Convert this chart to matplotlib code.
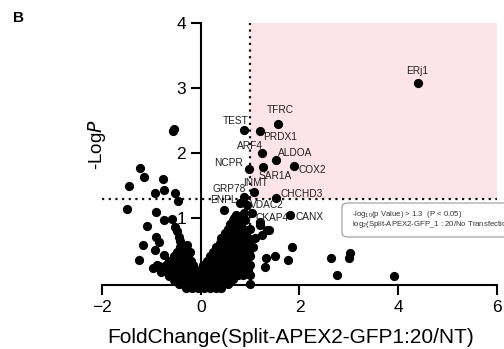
import matplotlib
matplotlib.use("Agg")
import matplotlib.pyplot as plt
from matplotlib.patches import Rectangle, FancyBboxPatch

plt.rcParams['font.family'] = ['Liberation Sans', 'DejaVu Sans']
plt.rcParams['mathtext.default'] = 'regular'

# Labelled proteins
genes = ["ERj1", "TFRC", "TEST", "PRDX1", "ARF4", "ALDOA", "NCPR", "SAR1A", "COX2",
         "INMT", "GRP78", "CHCHD3", "ENPL", "VDAC2", "CKAP4", "CANX"]
gene_fc = [4.41, 1.57, 0.87, 1.21, 1.25, 1.53, 0.98, 1.27, 1.89,
           1.07, 0.87, 1.53, 0.80, 0.94, 1.21, 1.80]
gene_logp = [3.07, 2.45, 2.35, 2.34, 2.00, 1.89, 1.75, 1.79, 1.81,
             1.41, 1.33, 1.32, 1.24, 1.20, 0.95, 1.05]

# Unlabelled proteins (outer points)
other_fc = [-0.57, -0.55, -1.23, -1.14, -0.77, -1.45, -0.92, -0.75, -0.53, -0.46,
            -1.50, -0.90, -0.75, -0.58, -1.09, -0.52, -0.90, -0.84, -0.45, -1.17,
            -0.92, -0.28, -1.25, -0.75, -0.96, -0.85, -0.62, -0.21, -0.48, -0.42,
            -0.35, -0.70, -0.80, -0.60, -0.50, -0.40, -0.65, -0.55,
            1.84, 2.63, 3.02, 3.00, 2.76, 3.92, 1.33, 1.50, 1.76, 1.38, 1.24,
            1.31, 1.00, 0.84, 1.00, 0.48, 0.87, 1.04, 0.67, 1.21, 1.34]
other_logp = [2.34, 2.37, 1.78, 1.64, 1.60, 1.49, 1.39, 1.43, 1.39, 1.26,
              1.15, 1.10, 0.97, 0.99, 0.89, 0.87, 0.72, 0.64, 0.72, 0.59,
              0.51, 0.59, 0.37, 0.44, 0.24, 0.27, 0.34, 0.49, 0.80, 0.65,
              0.50, 0.20, 0.18, 0.25, 0.35, 0.42, 0.12, 0.05,
              0.56, 0.39, 0.47, 0.39, 0.13, 0.12, 0.40, 0.42, 0.37, 0.82, 0.75,
              0.26, 0.13, 0.18, 0.00, 1.13, 1.08, 1.08, 1.00, 0.90, 0.82]

# Dense central cluster, read row by row: (-logP, [fold changes])
cluster_rows = [
    (-0.06, [-0.30, -0.18, -0.06, 0.06, 0.18, 0.30, 0.42]),
    (0.00, [-0.45, -0.35, -0.25, -0.15, -0.05, 0.05, 0.15, 0.25, 0.35, 0.45, 0.55]),
    (0.07, [-0.55, -0.45, -0.35, -0.25, -0.15, -0.05, 0.05, 0.15, 0.25, 0.35, 0.45, 0.55, 0.65]),
    (0.14, [-0.65, -0.55, -0.45, -0.35, -0.25, -0.15, -0.05, 0.05, 0.15, 0.25, 0.35, 0.45,
            0.55, 0.65, 0.75, 0.85]),
    (0.21, [-0.75, -0.62, -0.50, -0.40, -0.30, -0.20, -0.10, 0.00, 0.10, 0.20, 0.30, 0.40,
            0.50, 0.60, 0.70, 0.80, 0.95]),
    (0.28, [-0.88, -0.70, -0.55, -0.45, -0.35, -0.25, -0.15, 0.05, 0.15, 0.25, 0.35, 0.45,
            0.55, 0.65, 0.75, 0.85, 1.00]),
    (0.35, [-0.65, -0.50, -0.40, -0.30, -0.20, 0.12, 0.22, 0.32, 0.42, 0.52, 0.62, 0.72,
            0.82, 0.92]),
    (0.42, [-0.55, -0.45, -0.35, -0.25, 0.18, 0.28, 0.38, 0.48, 0.58, 0.68, 0.78, 0.88, 1.00]),
    (0.49, [-0.48, -0.38, 0.25, 0.35, 0.45, 0.55, 0.65, 0.75, 0.85, 0.98]),
    (0.56, [-0.42, 0.30, 0.40, 0.50, 0.60, 0.70, 0.80, 0.92, 1.05]),
    (0.63, [0.38, 0.48, 0.58, 0.68, 0.78, 0.88, 1.00]),
    (0.70, [0.42, 0.52, 0.62, 0.72, 0.82, 0.95, 1.10]),
    (0.77, [0.50, 0.60, 0.70, 0.80, 0.92]),
    (0.84, [0.55, 0.65, 0.75, 0.85, 1.00]),
    (0.91, [0.60, 0.72, 0.82]),
    (0.98, [0.66, 0.78, 0.90]),
    (1.05, [0.72, 0.85]),
]
cluster_fc = [x for _, xs in cluster_rows for x in xs]
cluster_logp = [y for y, xs in cluster_rows for _ in xs]

xticks = [-2, 0, 2, 4, 6]
yticks = [1, 2, 3, 4]
p_cut = 1.3
fc_cut = 1.0

fig = plt.figure(figsize=(5.04, 3.49), dpi=100)
ax = fig.add_axes([0.2024, 0.1834, 0.7836, 0.7516])
ax.set_xlim(-2, 6)
ax.set_ylim(-0.02, 4.0)

ax.add_patch(Rectangle((fc_cut, p_cut), 6 - fc_cut, 4.0 - p_cut, facecolor='#fde4e9',
                       edgecolor='none', zorder=0))
ax.axhline(p_cut, color='#111111', ls=(0, (1, 2)), lw=1.6, zorder=1, clip_on=False)
ax.axvline(fc_cut, color='#111111', ls=(0, (1, 2)), lw=1.6, zorder=1)

ms = 44
ax.scatter(cluster_fc, cluster_logp, s=ms, color='black', zorder=3, clip_on=False, linewidths=0)
ax.scatter(other_fc, other_logp, s=ms, color='black', zorder=3, clip_on=False, linewidths=0)
ax.scatter(gene_fc, gene_logp, s=ms, color='black', zorder=3, clip_on=False, linewidths=0)

offsets = {"ERj1": (-1, 9), "TFRC": (1.5, 10), "TEST": (-6, 7), "PRDX1": (14.4, -4.1),
           "ARF4": (-9, 5), "ALDOA": (13.7, 5.5), "NCPR": (-15, 4.8), "SAR1A": (8.4, -6.5),
           "COX2": (13.2, -3.4), "INMT": (1.7, 6), "GRP78": (-10.8, 5.5),
           "CHCHD3": (18.5, 2.9), "ENPL": (-12.2, 2), "VDAC2": (14.4, 0.5),
           "CKAP4": (8.6, 2.4), "CANX": (14.7, -1.4)}
for g, x, y in zip(genes, gene_fc, gene_logp):
    ax.annotate(g, (x, y), xytext=offsets[g], textcoords='offset points',
                ha='center', va='center', fontsize=7.3, color='#222222', zorder=4)

for s in ['top', 'right']:
    ax.spines[s].set_visible(False)
ax.spines['left'].set_position(('data', 0))
ax.spines['left'].set_linewidth(1.5)
ax.spines['bottom'].set_linewidth(1.5)
ax.set_xticks(xticks)
ax.set_yticks(yticks)
ax.tick_params(axis='both', length=7, width=1.5, labelsize=12.5, direction='out')
ax.set_xlabel('FoldChange(Split-APEX2-GFP1:20/NT)', fontsize=15)
ax.xaxis.set_label_coords(0.478, -0.165)

fig.text(97 / 504, 1 - 145 / 349, '-Log$\\it{P}$', rotation=90, fontsize=13.5,
         ha='center', va='center')
fig.text(13 / 504, 1 - 18 / 349, 'B', fontsize=11, fontweight='bold', ha='left', va='center')

box = FancyBboxPatch((342 / 504, 1 - 237 / 349), 190 / 504, 34 / 349,
                     boxstyle='round,pad=0,rounding_size=0.012', transform=fig.transFigure,
                     facecolor='white', edgecolor='#999999', lw=0.8, zorder=5)
fig.patches.append(box)
fig.text(352 / 504, 1 - 214 / 349, '-log$_{10}$(p Value) > 1.3  (P < 0.05)', fontsize=5.6,
         ha='left', va='center', color='#333333', zorder=6)
fig.text(352 / 504, 1 - 225 / 349, 'log$_{2}$(Split-APEX2-GFP_1 : 20/No Transfection)',
         fontsize=5.6, ha='left', va='center', color='#333333', zorder=6)

fig.savefig('out.png', dpi=100)
